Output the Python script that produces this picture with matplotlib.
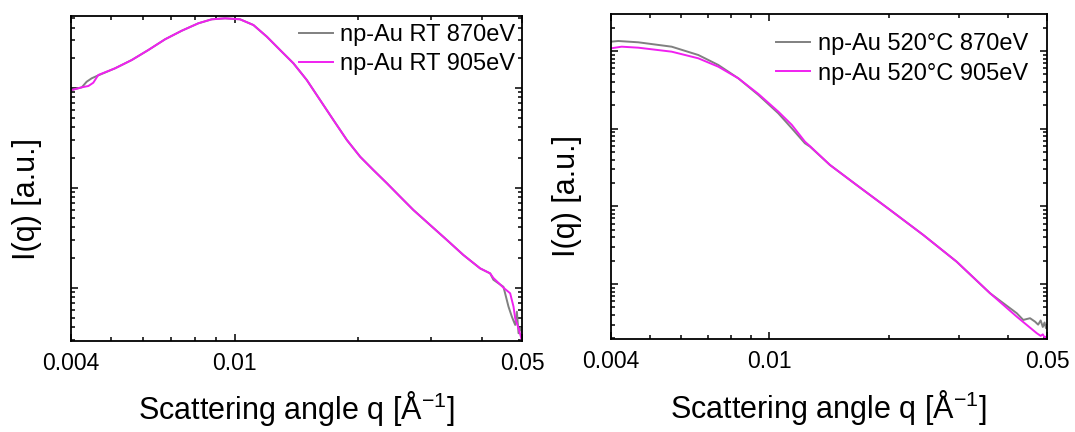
"""SAXS curves of np-Au at two photon energies: as-prepared (RT) and after 520 °C."""

import matplotlib
matplotlib.use("Agg")
import matplotlib.pyplot as plt
from matplotlib.ticker import FixedLocator, FixedFormatter, LogLocator, NullFormatter

plt.rcParams["font.family"] = ["Liberation Sans", "DejaVu Sans"]
plt.rcParams["mathtext.fontset"] = "custom"
plt.rcParams["mathtext.rm"] = "Liberation Sans"
plt.rcParams["mathtext.it"] = "Liberation Sans:italic"

GRAY = "#808080"
MAGENTA = "#f020f0"

# --- room temperature, 870 eV
rt870_q = [0.00400, 0.004249, 0.004367, 0.004491, 0.004621, 0.005119, 0.005621, 0.006168,
           0.006773, 0.007438, 0.008161, 0.008797, 0.009481, 0.01031, 0.01111, 0.01198,
           0.01290, 0.01390, 0.01498, 0.01614, 0.01739, 0.01875, 0.02020, 0.02176,
           0.02345, 0.02527, 0.02722, 0.02988, 0.03283, 0.03602, 0.03955, 0.04183,
           0.04260, 0.04507, 0.04636, 0.04724, 0.04813, 0.04859, 0.04904, 0.04951, 0.05000]
rt870_I = [945, 1009, 1148, 1242, 1309, 1563, 1892, 2382,
           3048, 3715, 4406, 4831, 4943, 4831, 4236, 3236,
           2382, 1754, 1194, 753, 475, 300, 204, 150,
           111, 81.3, 59.8, 42.4, 30.0, 21.2, 15.6, 13.9,
           12.0, 10.2, 6.46, 5.13, 4.24, 5.75, 3.50, 3.95, 3.60]

# --- room temperature, 905 eV
rt905_q = [0.00400, 0.004249, 0.004409, 0.004532, 0.004660, 0.005119, 0.005621, 0.006168,
           0.006773, 0.007438, 0.008161, 0.008797, 0.009481, 0.01031, 0.01111, 0.01198,
           0.01290, 0.01390, 0.01498, 0.01614, 0.01739, 0.01875, 0.02020, 0.02176,
           0.02345, 0.02527, 0.02722, 0.02988, 0.03283, 0.03602, 0.03955, 0.04183,
           0.04260, 0.04507, 0.04679, 0.04768, 0.04813, 0.04904, 0.05000]
rt905_I = [945, 1009, 1040, 1122, 1340, 1563, 1892, 2382,
           3048, 3715, 4406, 4831, 4943, 4831, 4236, 3236,
           2382, 1754, 1194, 753, 475, 300, 204, 150,
           111, 81.3, 59.8, 42.4, 30.0, 21.2, 15.6, 13.9,
           12.5, 10.0, 8.79, 6.46, 4.94, 3.93, 2.95]

# --- annealed 520 °C, 870 eV
ht870_q = [0.00400, 0.004171, 0.004685, 0.005685, 0.006633, 0.007447, 0.008363, 0.009392,
           0.01054, 0.01140, 0.01230, 0.01267, 0.01422, 0.01660, 0.02014, 0.02442,
           0.02962, 0.03594, 0.04196, 0.04357, 0.04532, 0.04665, 0.04750, 0.04820,
           0.04880, 0.04930, 0.04970, 0.05000]
ht870_I = [1318, 1345, 1294, 1136, 888, 661, 445, 272,
           158, 101, 64.9, 58.7, 34.1, 18.8, 9.0, 4.28,
           1.94, 0.762, 0.421, 0.345, 0.363, 0.328, 0.300, 0.340,
           0.280, 0.320, 0.270, 0.290]

# --- annealed 520 °C, 905 eV
ht905_q = [0.00400, 0.004256, 0.004685, 0.005685, 0.006633, 0.007447, 0.008363, 0.009392,
           0.01054, 0.01140, 0.01230, 0.01267, 0.01422, 0.01660, 0.02014, 0.02442,
           0.02962, 0.03594, 0.04196, 0.04711, 0.04820, 0.04880, 0.04930, 0.04970, 0.05000]
ht905_I = [1083, 1136, 1103, 980, 805, 628, 445, 280,
           166, 112, 68.1, 59.5, 34.1, 18.8, 9.0, 4.28,
           1.94, 0.762, 0.380, 0.233, 0.215, 0.225, 0.205, 0.210, 0.198]

panels = [
    dict(rect=[71 / 1075, 1 - 340.7 / 432, 451 / 1075, 325 / 432],
         ylim=(2.95, 5250),
         series=[(rt870_q, rt870_I, GRAY, "np-Au RT 870eV"),
                 (rt905_q, rt905_I, MAGENTA, "np-Au RT 905eV")],
         legend_anchor=(0.985, 0.975),
         ylabel_xy=(-0.064, 0.4375)),
    dict(rect=[611 / 1075, 1 - 339 / 432, 436 / 1075, 325 / 432],
         ylim=(0.196, 2994),
         series=[(ht870_q, ht870_I, GRAY, "np-Au 520°C 870eV"),
                 (ht905_q, ht905_I, MAGENTA, "np-Au 520°C 905eV")],
         legend_anchor=(0.956, 0.9415),
         ylabel_xy=(-0.0665, 0.44)),
]

fig = plt.figure(figsize=(10.75, 4.32), dpi=100)

for p in panels:
    ax = fig.add_axes(p["rect"])
    for q, I, c, lab in p["series"]:
        ax.plot(q, I, color=c, lw=1.4, label=lab)
    ax.set_xscale("log")
    ax.set_yscale("log")
    ax.set_xlim(0.004, 0.05)
    ax.set_ylim(*p["ylim"])

    ax.xaxis.set_major_locator(FixedLocator([0.004, 0.01, 0.05]))
    ax.xaxis.set_major_formatter(FixedFormatter(["0.004", "0.01", "0.05"]))
    ax.xaxis.set_minor_locator(LogLocator(base=10, subs=range(2, 10)))
    ax.xaxis.set_minor_formatter(NullFormatter())
    ax.yaxis.set_major_locator(LogLocator(base=10))
    ax.yaxis.set_minor_locator(LogLocator(base=10, subs=range(2, 10)))
    ax.yaxis.set_major_formatter(NullFormatter())
    ax.yaxis.set_minor_formatter(NullFormatter())

    ax.tick_params(which="both", direction="in", top=True, right=True, width=1.1)
    ax.tick_params(which="major", length=5, labelsize=16.5, pad=8)
    ax.tick_params(which="minor", length=3)
    for sp in ax.spines.values():
        sp.set_linewidth(1.3)

    ax.set_xlabel("Scattering angle q [Å$^{-1}$]", fontsize=22)
    ax.set_ylabel("I(q) [a.u.]", fontsize=22)
    ax.xaxis.set_label_coords(0.5, -0.15)
    ax.yaxis.set_label_coords(*p["ylabel_xy"])

    ax.legend(loc="upper right", bbox_to_anchor=p["legend_anchor"], frameon=False,
              fontsize=17, handlelength=1.45, handletextpad=0.3, labelspacing=0.32,
              borderaxespad=0.0, borderpad=0.0)

fig.savefig("out.png", dpi=100)
